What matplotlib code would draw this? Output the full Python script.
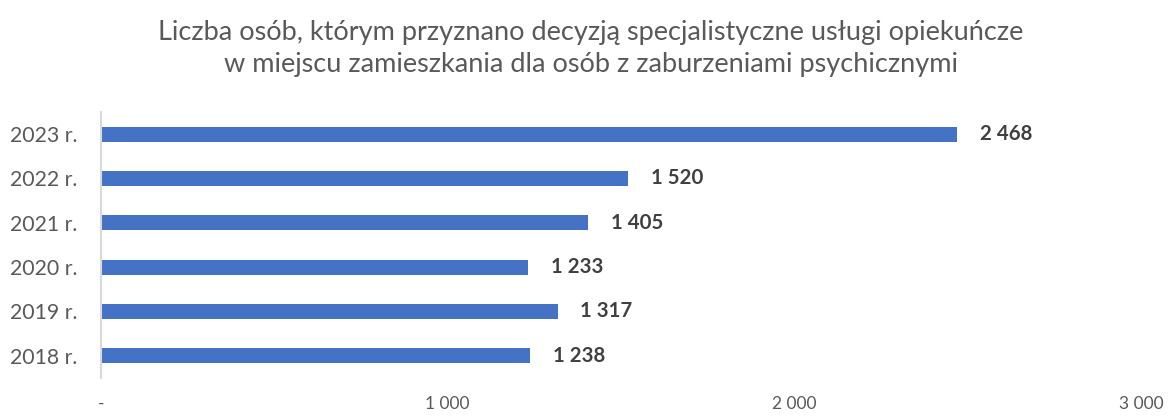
import matplotlib
matplotlib.use("Agg")
import matplotlib.pyplot as plt

plt.rcParams['font.family'] = ['Lato', 'DejaVu Sans']

lata = ["2018 r.", "2019 r.", "2020 r.", "2021 r.", "2022 r.", "2023 r."]
liczba_osob = [1238, 1317, 1233, 1405, 1520, 2468]
x_ticks = [0, 1000, 2000, 3000]
x_tick_labels = ["-", "1 000", "2 000", "3 000"]

fig = plt.figure(figsize=(11.7, 4.19), dpi=100)
ax = fig.add_axes([0.0863, 0.098, 0.889, 0.635])

ax.barh(lata, liczba_osob, height=0.34, color="#4472C4")
for i, v in enumerate(liczba_osob):
    ax.text(v + 66, i, f"{v:,}".replace(",", " "), va="center", ha="left",
            fontsize=14.7, fontweight="bold", color="#404040")

ax.set_xlim(0, 3000)
ax.set_ylim(-0.5, 5.5)
ax.set_xticks(x_ticks)
ax.set_xticklabels(x_tick_labels, fontsize=12.5, color="#595959")
ax.tick_params(axis="x", length=0, pad=13)
ax.tick_params(axis="y", length=0, pad=17, labelsize=15.3, labelcolor="#595959")

for s in ["top", "right", "bottom"]:
    ax.spines[s].set_visible(False)
ax.spines["left"].set_color("#D9D9D9")
ax.spines["left"].set_linewidth(1.5)

fig.text(0.505, 0.885, "Liczba osób, którym przyznano decyzją specjalistyczne usługi opiekuńcze\n"
         "w miejscu zamieszkania dla osób z zaburzeniami psychicznymi",
         ha="center", va="center", fontsize=19.5, color="#595959", linespacing=1.35)

fig.savefig("out.png", dpi=100)
